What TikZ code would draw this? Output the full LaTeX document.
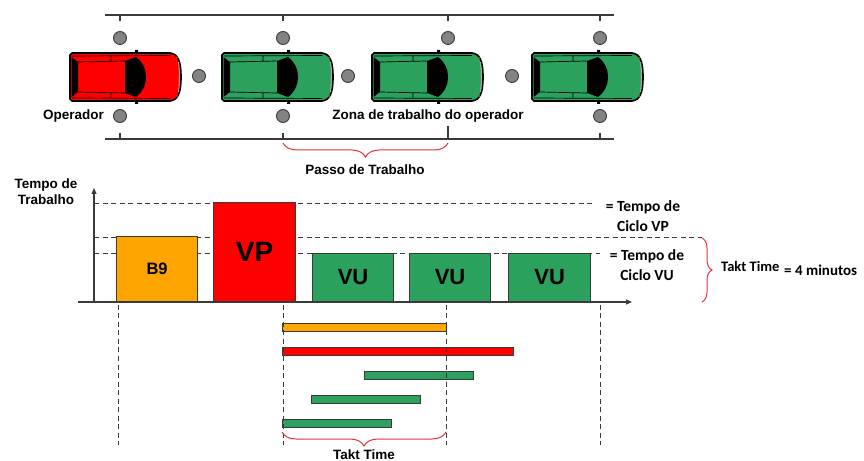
\documentclass[tikz,border=0pt]{standalone}
\usepackage{fontspec}
\setmainfont{Liberation Sans}
\newfontfamily\calfont{Carlito}
\usetikzlibrary{arrows.meta,decorations.pathreplacing}

\definecolor{cgreen}{HTML}{2BA15D}
\definecolor{corange}{HTML}{FFA500}
\definecolor{cred}{HTML}{FF0000}
\definecolor{cdot}{HTML}{838383}
\definecolor{cline}{HTML}{3A3A3A}
\definecolor{cbrace}{HTML}{E8303A}

\tikzset{
  rail/.style={draw=cline, line width=1.3bp},
  dot/.style={circle, fill=cdot, draw=cline, line width=0.9bp, minimum size=13bp, inner sep=0pt},
  lbl/.style={font=\fontsize{13.5bp}{16bp}\selectfont\bfseries, text=black, inner sep=0pt},
  lblc/.style={font=\calfont\fontsize{15.5bp}{19.5bp}\selectfont\bfseries, align=center, inner sep=0pt},
  guide/.style={draw=cline, line width=1bp, dash pattern=on 5bp off 3.5bp},
  bar/.style={draw=cline, line width=1.2bp, anchor=south west, inner sep=0pt},
  strip/.style={draw=cline, line width=1.1bp, anchor=north west, minimum height=8bp, inner sep=0pt},
  brc/.style={draw=cbrace, line width=1bp, decorate, decoration={brace, amplitude=#1}},
  brcm/.style={draw=cbrace, line width=1bp, decorate, decoration={brace, mirror, amplitude=#1}},
  pics/car/.style={code={
    % body
    \path[fill=#1, draw=black, line width=1.6bp]
      (0,-22) -- (2,-24) -- (100,-24) .. controls (108,-23) and (111,-16) .. (111,0)
      .. controls (111,16) and (108,23) .. (100,24) -- (2,24) -- (0,22) -- cycle;
    % rear window
    \fill[black] (1.5,-20) -- (8,-15) -- (8,15) -- (1.5,20) -- cycle;
    % windshield
    \fill[black] (55,-16) -- (66,-20) .. controls (74,-14) and (76,-6) .. (76,0)
      .. controls (76,6) and (74,14) .. (66,20) -- (55,16) -- cycle;
    % roof and side lines
    \draw[black, line width=0.7bp] (8,-15) -- (55,-16) (8,15) -- (55,16)
      (2,-21) -- (100,-21.5) (2,21) -- (100,21.5)
      (41,-21) -- (41,-15.5) (41,21) -- (41,15.5);
    % mirrors
    \fill[black] (65,-27) rectangle (68,-23) (65,23) rectangle (68,27);
    % lamps and bumper
    \fill[orange!70!black] (107,-19) circle (1bp) (107,19) circle (1bp);
    \draw[gray!50, line width=0.8bp] (108.6,-15) .. controls (109.6,-5) and (109.6,5) .. (108.6,15);
  }}
}

\begin{document}
\begin{tikzpicture}[x=1bp, y=-1bp]
\useasboundingbox (0,0) rectangle (864,461);

% ---------- assembly line ----------
\coordinate (tl) at (105,15);
\coordinate (tr) at (614,15);
\coordinate (bl) at (105,139);
\coordinate (br) at (614,139);
\draw[rail] (tl) -- (tr);
\draw[rail] (bl) -- (br);

\foreach \n/\x in {1/120, 2/283, 3/448, 4/600}{
  \node[dot] (t\n) at (\x,38) {};
  \draw[rail, shorten <=10bp] (t\n) -- (t\n |- tl);
}
\foreach \n/\x in {1/120, 2/283, 4/600}{
  \node[dot] (b\n) at (\x,116) {};
  \draw[rail, shorten <=10bp] (b\n) -- (b\n |- bl);
}
% the station post under the zone label has no marker
\coordinate (b3) at (448,126);
\draw[rail] (b3) -- (b3 |- bl);

\node[dot] (m1) at (199,76) {};
\node[dot] (m2) at (348,76) {};
\node[dot] (m3) at (512,76) {};

\pic (carA) at (70,77) {car=cred};
\pic (carB) at (222,77) {car=cgreen};
\pic (carC) at (372,77) {car=cgreen};
\pic (carD) at (532,77) {car=cgreen};

\node[lbl, anchor=east] (op) at (104,116) {Operador};
\node[lbl] (zona) at (428,116) {Zona de trabalho do operador};

\coordinate (ps) at (283,143);
\coordinate (pe) at (448,143);
\draw[brcm=14bp] (ps) -- (pe);
\node[lbl] (passo) at (365,170) {Passo de Trabalho};

% ---------- chart ----------
\node[lbl, align=center] (ylab) at (46,192) {Tempo de\\Trabalho};

\coordinate (o) at (94,302);
\coordinate (ytip) at (94,188);
\coordinate (xs) at (78,302);
\coordinate (xtip) at (632,302);

% cycle-time guides
\coordinate (g1s) at (94,204);  \coordinate (g1e) at (592,204);
\coordinate (g2s) at (94,238);  \coordinate (g2e) at (702,238);
\coordinate (g3s) at (94,254);  \coordinate (g3e) at (600,254);
\draw[guide] (g1s) -- (g1e);
\draw[guide] (g2s) -- (g2e);
\draw[guide] (g3s) -- (g3e);

\node[bar, fill=corange, minimum width=81bp, minimum height=65bp,
      font=\fontsize{16.5bp}{18bp}\selectfont\bfseries] (b9) at (116,302) {B9};
\node[bar, fill=cred, minimum width=82bp, minimum height=99bp,
      font=\fontsize{28bp}{30bp}\selectfont\bfseries] (vp) at (213,302) {VP};
\node[bar, fill=cgreen, minimum width=81bp, minimum height=48bp,
      font=\fontsize{22bp}{24bp}\selectfont\bfseries] (vu1) at (312,302) {VU};
\node[bar, fill=cgreen, minimum width=81bp, minimum height=48bp,
      font=\fontsize{22bp}{24bp}\selectfont\bfseries] (vu2) at (409,302) {VU};
\node[bar, fill=cgreen, minimum width=82bp, minimum height=48bp,
      font=\fontsize{22bp}{24bp}\selectfont\bfseries] (vu3) at (508,302) {VU};

\draw[rail, line width=1.2bp, -{Triangle[length=6bp,width=5bp]}] (o) -- (ytip);
\draw[rail, line width=1.2bp, -{Triangle[length=6bp,width=5bp]}] (xs) -- (xtip);

\node[lblc] (cvp) at (643,216) {= Tempo de\\Ciclo VP};
\node[lblc] (cvu) at (647,265) {= Tempo de\\Ciclo VU};

\coordinate (rs) at (702,238);
\coordinate (re) at (702,302);
\draw[brc=10bp] (rs) -- (re);
\node[font=\calfont\fontsize{14.5bp}{16bp}\selectfont\bfseries, anchor=west, inner sep=0pt] (takt) at (721,266) {Takt Time};
\node[font=\calfont\fontsize{15bp}{16bp}\selectfont\bfseries, anchor=west, inner sep=0pt] (mins) at (784,270) {= 4 minutos};

% ---------- overlapping operations ----------
\node[strip, fill=corange, minimum width=164bp] (s1) at (282,323) {};
\node[strip, fill=cred, minimum width=231bp] (s2) at (282,347) {};
\node[strip, fill=cgreen, minimum width=109bp] (s3) at (364,371) {};
\node[strip, fill=cgreen, minimum width=109bp] (s4) at (311,395) {};
\node[strip, fill=cgreen, minimum width=109bp] (s5) at (282,419) {};

\foreach \n/\x in {1/118, 2/283, 3/446, 4/600}{
  \coordinate (v\n s) at (\x,305);
  \coordinate (v\n e) at (\x,445);
  \draw[guide] (v\n s) -- (v\n e);
}

\coordinate (ks) at (282,432);
\coordinate (ke) at (446,432);
\draw[brcm=14bp] (ks) -- (ke);
\node[lbl] (takt2) at (364,455) {Takt Time};

\end{tikzpicture}
\end{document}
